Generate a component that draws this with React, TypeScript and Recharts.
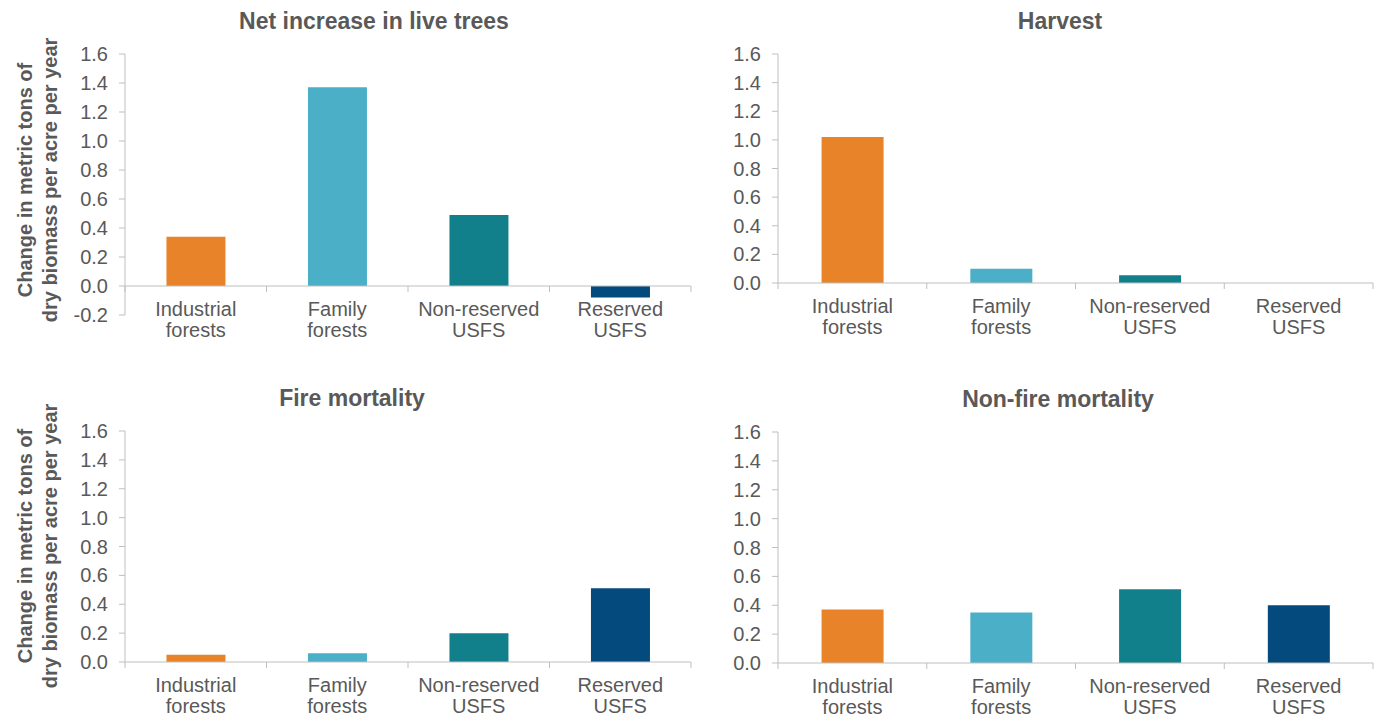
import React from 'react';
import { BarChart, Bar, Cell, XAxis, YAxis, ReferenceLine } from 'recharts';

const categories = ['Industrial forests', 'Family forests', 'Non-reserved USFS', 'Reserved USFS'];
const categoryLines = [
  ['Industrial', 'forests'],
  ['Family', 'forests'],
  ['Non-reserved', 'USFS'],
  ['Reserved', 'USFS'],
];

const netIncrease = [0.34, 1.37, 0.49, -0.08];
const harvest = [1.02, 0.1, 0.055, 0];
const fireMortality = [0.05, 0.06, 0.2, 0.51];
const nonFireMortality = [0.37, 0.35, 0.51, 0.4];

const ticksWithNeg = [-0.2, 0, 0.2, 0.4, 0.6, 0.8, 1.0, 1.2, 1.4, 1.6];
const ticksPos = [0, 0.2, 0.4, 0.6, 0.8, 1.0, 1.2, 1.4, 1.6];

const COLORS = ['#E8832A', '#4BAFC8', '#12808A', '#044A7C'];
const AXIS = '#BFBFBF';
const TEXT = '#595959';
const FONT = '"Liberation Sans", Arial, sans-serif';

function CategoryTick(props: any) {
  const { x, y, payload, shift, band } = props;
  const idx = categories.indexOf(payload.value);
  const lines = categoryLines[idx] || [payload.value, ''];
  const zy = y - shift;
  return (
    <g>
      <line x1={x - band / 2} x2={x - band / 2} y1={zy} y2={zy + 6} stroke={AXIS} />
      {idx === categories.length - 1 && (
        <line x1={x + band / 2} x2={x + band / 2} y1={zy} y2={zy + 6} stroke={AXIS} />
      )}
      <text x={x} y={zy + 23} textAnchor="middle" fill={TEXT} fontSize={20} fontFamily={FONT}>
        <tspan x={x} dy="0.355em">{lines[0]}</tspan>
        <tspan x={x} dy={21}>{lines[1]}</tspan>
      </text>
    </g>
  );
}

type PanelProps = {
  values: number[];
  ticks: number[];
  left: number;
  top: number;
  width: number;
  height: number;
  mTop: number;
  mRight: number;
  yWidth: number;
  xHeight: number;
};

function Panel({ values, ticks, left, top, width, height, mTop, mRight, yWidth, xHeight }: PanelProps) {
  const data = categories.map((name, i) => ({ name, value: values[i] }));
  const yMin = ticks[0];
  const yMax = ticks[ticks.length - 1];
  const plotH = height - mTop - xHeight;
  const plotW = width - yWidth - mRight;
  const shift = (plotH * (0 - yMin)) / (yMax - yMin);
  return (
    <div style={{ position: 'absolute', left, top }}>
      <BarChart
        width={width}
        height={height}
        data={data}
        margin={{ top: mTop, right: mRight, left: 0, bottom: 0 }}
        barCategoryGap="29.3%"
        style={{ fontFamily: FONT }}
      >
        <XAxis
          dataKey="name"
          axisLine={false}
          tickLine={false}
          tickSize={0}
          tickMargin={0}
          height={xHeight}
          interval={0}
          tick={<CategoryTick shift={shift} band={plotW / categories.length} />}
        />
        <YAxis
          domain={[yMin, yMax]}
          ticks={ticks}
          interval={0}
          width={yWidth}
          tickSize={6}
          tickMargin={11}
          stroke={AXIS}
          tickLine={{ stroke: AXIS }}
          axisLine={{ stroke: AXIS }}
          tick={{ fill: TEXT, fontSize: 20, fontFamily: FONT }}
          tickFormatter={(v: number) => v.toFixed(1)}
        />
        <Bar dataKey="value" isAnimationActive={false}>
          {data.map((d, i) => (
            <Cell key={d.name} fill={COLORS[i]} />
          ))}
        </Bar>
        <ReferenceLine y={0} stroke={AXIS} strokeWidth={1} />
      </BarChart>
    </div>
  );
}

function YLabel({ cy }: { cy: number }) {
  return (
    <>
      <text
        transform={`translate(25,${cy}) rotate(-90)`}
        textAnchor="middle"
        dominantBaseline="central"
        fontSize={20}
        fontWeight="bold"
        fill={TEXT}
        fontFamily={FONT}
      >
        Change in metric tons of
      </text>
      <text
        transform={`translate(50,${cy}) rotate(-90)`}
        textAnchor="middle"
        dominantBaseline="central"
        fontSize={20}
        fontWeight="bold"
        fill={TEXT}
        fontFamily={FONT}
      >
        dry biomass per acre per year
      </text>
    </>
  );
}

function Title({ x, y, text }: { x: number; y: number; text: string }) {
  return (
    <text x={x} y={y} textAnchor="middle" dominantBaseline="central" fontSize={23} fontWeight="bold" fill={TEXT} fontFamily={FONT}>
      {text}
    </text>
  );
}

export default function App() {
  return (
    <div style={{ position: 'absolute', left: 0, top: 0, width: 1380, height: 717, background: '#fff', fontFamily: FONT }}>
      <Panel values={netIncrease} ticks={ticksWithNeg} left={0} top={0} width={700} height={360} mTop={54} mRight={9} yWidth={125} xHeight={45} />
      <Panel values={harvest} ticks={ticksPos} left={690} top={0} width={690} height={360} mTop={54} mRight={7} yWidth={88} xHeight={77} />
      <Panel values={fireMortality} ticks={ticksPos} left={0} top={360} width={700} height={357} mTop={71} mRight={9} yWidth={125} xHeight={55} />
      <Panel values={nonFireMortality} ticks={ticksPos} left={690} top={360} width={690} height={357} mTop={72} mRight={7} yWidth={88} xHeight={54} />
      <svg width={1380} height={717} style={{ position: 'absolute', left: 0, top: 0, pointerEvents: 'none' }}>
        <Title x={374} y={21} text="Net increase in live trees" />
        <Title x={1060} y={21} text="Harvest" />
        <Title x={352} y={398} text="Fire mortality" />
        <Title x={1058} y={399} text="Non-fire mortality" />
        <YLabel cy={180} />
        <YLabel cy={546} />
      </svg>
    </div>
  );
}
